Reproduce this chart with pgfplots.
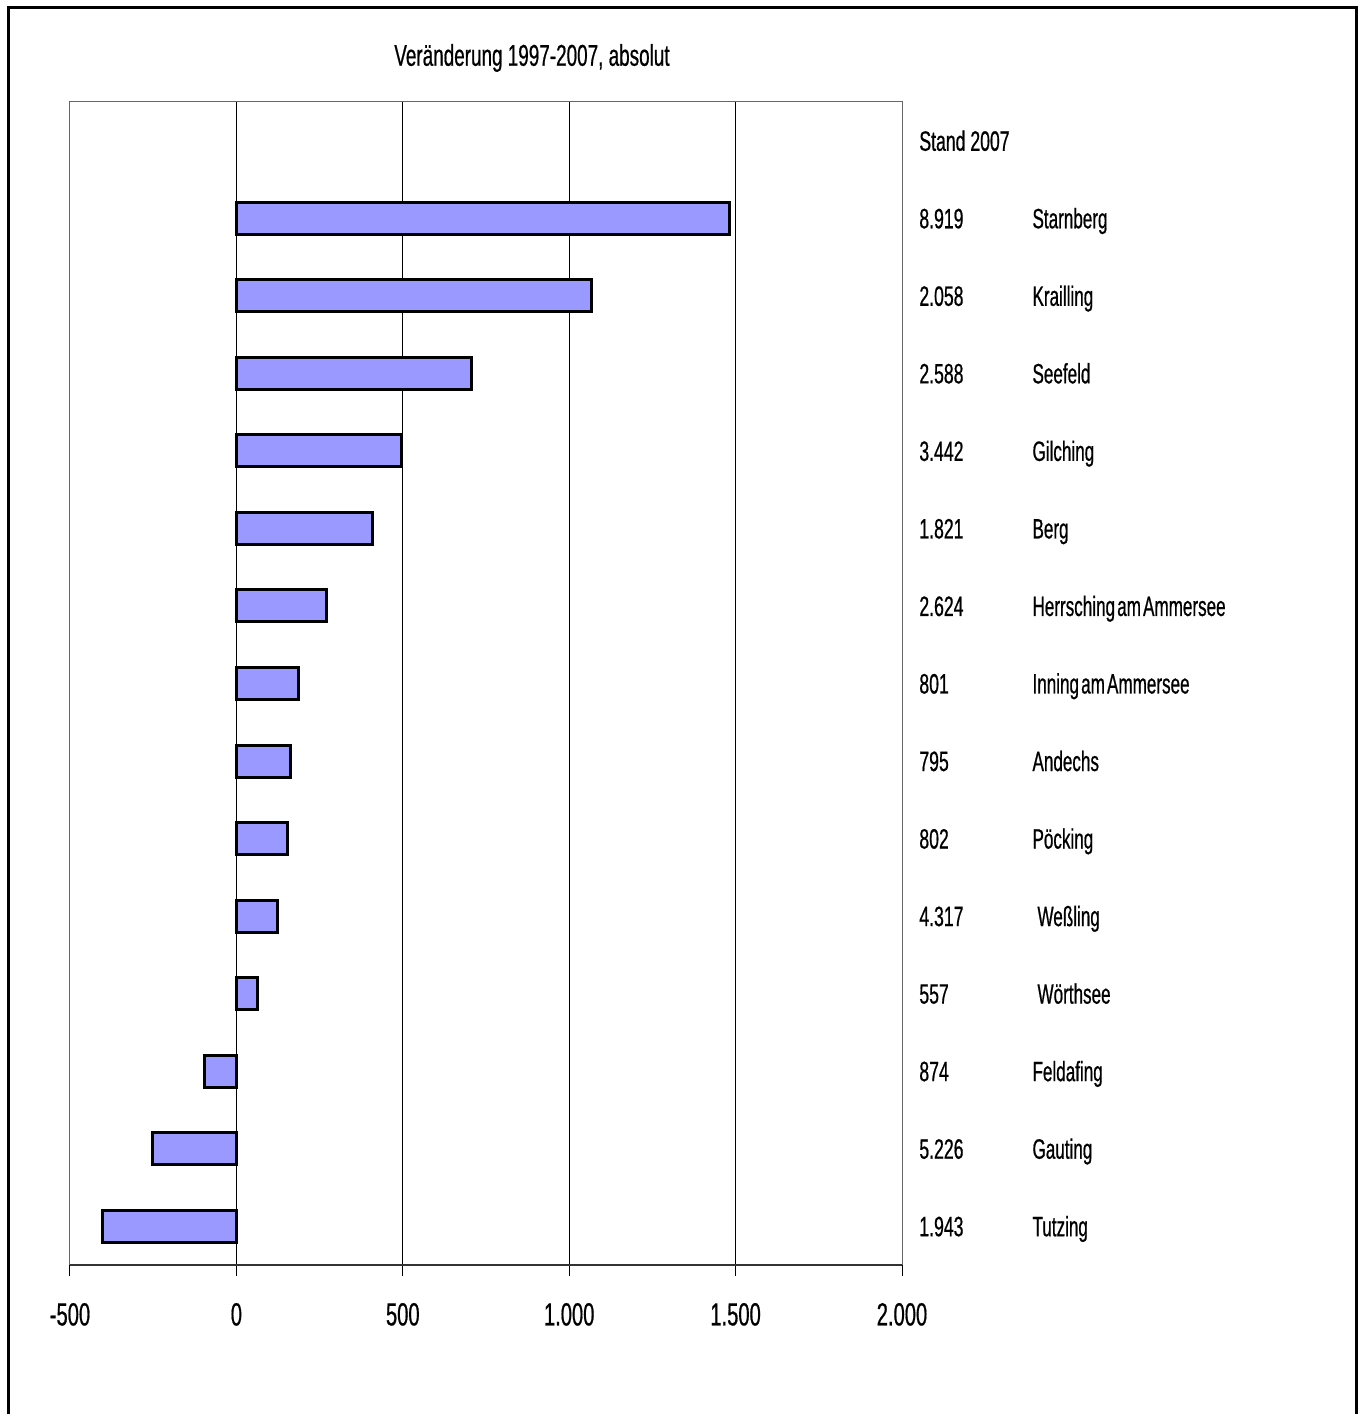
\documentclass[border=0pt]{standalone}
\usepackage{fontspec}
\setmainfont[FakeStretch=0.63, FakeBold=0.6]{Liberation Sans}
\newfontfamily\namefont[FakeStretch=0.61, FakeBold=0.6, WordSpace=0.45]{Liberation Sans}
\usepackage{pgfplots}
\pgfplotsset{compat=1.18}
\definecolor{barblue}{HTML}{9999FF}

\pgfplotstableread{
y  val   stand  name
13 1482  8.919  Starnberg
12 1066  2.058  Krailling
11 706   2.588  Seefeld
10 495   3.442  Gilching
9  409   1.821  Berg
8  271   2.624  {Herrsching am Ammersee}
7  188   801    {Inning am Ammersee}
6  163   795    Andechs
5  154   802    Pöcking
4  125   4.317  {\hspace{2.5pt}Weßling}
3  62    557    {\hspace{2.5pt}Wörthsee}
2  -97   874    Feldafing
1  -253  5.226  Gauting
0  -403  1.943  Tutzing
}\datatable

\begin{document}
\begin{tikzpicture}
% 1 px of the reference = 0.5pt
\clip (0,0) rectangle (679pt,707pt);
\draw[line width=1.5pt] (4pt,-20pt) -- (4pt,703pt) -- (678pt,703pt) -- (678pt,-20pt);
\node[font=\fontsize{15}{18}\selectfont] at (266pt,678pt) {Veränderung 1997-2007, absolut};
\begin{axis}[
  at={(35pt,74.5pt)}, anchor=south west,
  scale only axis, width=416pt, height=581.5pt,
  xbar, bar width=16pt,
  xmin=-500, xmax=2000, ymin=-0.5, ymax=14.5,
  xtick={-500,0,500,1000,1500,2000},
  xticklabels={-500,0,500,1.000,1.500,2.000},
  ytick=\empty,
  xmajorgrids, grid style={black, line width=0.5pt},
  axis line style={gray!80!black, line width=0.5pt},
  xtick pos=bottom, tick align=outside, major tick length=5.5pt,
  tick style={black, line width=0.5pt},
  xticklabel style={font=\fontsize{16}{19}\selectfont, yshift=-10pt},
  clip=false,
]
\addplot[fill=barblue, draw=black, line width=1.5pt] table[x=val, y=y] {\datatable};
\draw[gray!40!black, line width=1pt] (rel axis cs:0,0) -- (rel axis cs:1,0);
\node[anchor=base west, inner sep=0pt, yshift=-5pt, font=\fontsize{14}{17}\selectfont] at (axis cs:2051,14) {Stand 2007};
\pgfplotsinvokeforeach{0,...,13}{
  \pgfplotstablegetelem{#1}{stand}\of\datatable
  \let\st\pgfplotsretval
  \pgfplotstablegetelem{#1}{name}\of\datatable
  \let\nm\pgfplotsretval
  \pgfplotstablegetelem{#1}{y}\of\datatable
  \edef\temp{%
    \noexpand\node[anchor=base west, inner sep=0pt, yshift=-5pt, font=\noexpand\fontsize{14}{17}\noexpand\selectfont] at (axis cs:2051,\pgfplotsretval) {\unexpanded\expandafter{\st}};
    \noexpand\node[anchor=base west, inner sep=0pt, yshift=-5pt, font=\noexpand\namefont\noexpand\fontsize{14}{17}\noexpand\selectfont] at (axis cs:2391,\pgfplotsretval) {\unexpanded\expandafter{\nm}};
  }%
  \temp
}
\end{axis}
\end{tikzpicture}
\end{document}
